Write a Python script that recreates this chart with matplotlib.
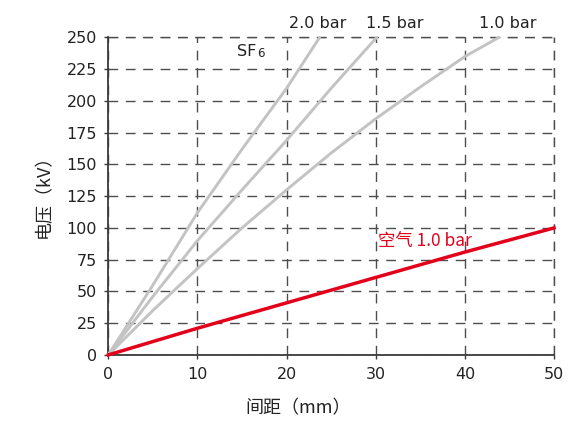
import matplotlib
matplotlib.use("Agg")
import matplotlib.pyplot as plt

plt.rcParams['font.family'] = ['DejaVu Sans', 'Noto Sans CJK SC']

# Data
sf6_20_x = [0, 5, 10, 15, 20, 23.7]
sf6_20_y = [0, 55, 112, 162, 210, 250]
sf6_15_x = [0, 5, 10, 15, 20, 25, 30.1]
sf6_15_y = [0, 46, 90, 130, 169, 210, 250]
sf6_10_x = [0, 5, 10, 15, 20, 25, 30, 35, 40, 43.8]
sf6_10_y = [0, 35, 68, 100, 130, 159, 186, 211, 235, 250]
air_x = [0, 10, 20, 30, 40, 50]
air_y = [0, 21, 41, 61, 81, 100]

x_ticks = [0, 10, 20, 30, 40, 50]
y_ticks = [0, 25, 50, 75, 100, 125, 150, 175, 200, 225, 250]
curve_labels = ["2.0 bar", "1.5 bar", "1.0 bar"]
curve_label_x = [20.3, 28.9, 41.6]

GRAY = "#c3c3c3"
RED = "#e3001b"
DARK = "#3a3a3a"
GRID = "#4d4d4d"
DASH = (0, (7, 5.5))
CJK = ['Noto Sans CJK SC', 'DejaVu Sans']

fig = plt.figure(figsize=(5.70, 4.21), dpi=100)
ax = fig.add_axes([0.19, 0.157, 0.782, 0.754])

ax.set_xlim(0, 50)
ax.set_ylim(0, 250)

ax.grid(True, color=GRID, linestyle=DASH, linewidth=1.0)
ax.set_axisbelow(True)

for xs, ys in [(sf6_20_x, sf6_20_y), (sf6_15_x, sf6_15_y), (sf6_10_x, sf6_10_y)]:
    ax.plot(xs, ys, color=GRAY, linewidth=2.1, solid_capstyle='round', clip_on=False, zorder=3)
ax.plot(air_x, air_y, color=RED, linewidth=2.5, clip_on=False, zorder=4)

ax.spines['top'].set_visible(False)
ax.spines['right'].set_visible(False)
ax.axhline(250, color=GRID, linestyle=DASH, linewidth=1.0, clip_on=False, zorder=1)
ax.axvline(50, color=GRID, linestyle=DASH, linewidth=1.0, clip_on=False, zorder=1)
ax.spines['left'].set_color(DARK)
ax.spines['bottom'].set_color(DARK)
ax.spines['left'].set_linewidth(1.3)
ax.spines['bottom'].set_linewidth(1.3)

ax.set_xticks(x_ticks)
ax.set_yticks(y_ticks)
ax.tick_params(axis='both', length=3, width=1.0, color=DARK, labelsize=11.5,
               labelcolor="#222222")
ax.tick_params(axis='y', pad=5)
ax.tick_params(axis='x', pad=6)

ax.set_xlabel("间距（mm）", family=CJK, fontsize=13, color="#222222")
ax.xaxis.set_label_coords(0.425, -0.14)
ax.set_ylabel("电压（kV）", family=CJK, fontsize=13, color="#222222")
ax.yaxis.set_label_coords(-0.125, 0.513)

# curve end labels
for lab, lx in zip(curve_labels, curve_label_x):
    ax.text(lx, 255, lab, ha='left', va='bottom', fontsize=11.5, color="#222222", clip_on=False)

ax.text(14.4, 239, "SF", ha='left', va='center', fontsize=11.5, color="#222222")
ax.text(16.7, 237.5, "6", ha='left', va='center', fontsize=8.5, color="#222222")

ax.text(30.2, 90, "空气 1.0 bar", ha='left', va='center', fontsize=12.5, color=RED,
        family=CJK)

fig.savefig("out.png", dpi=100)
